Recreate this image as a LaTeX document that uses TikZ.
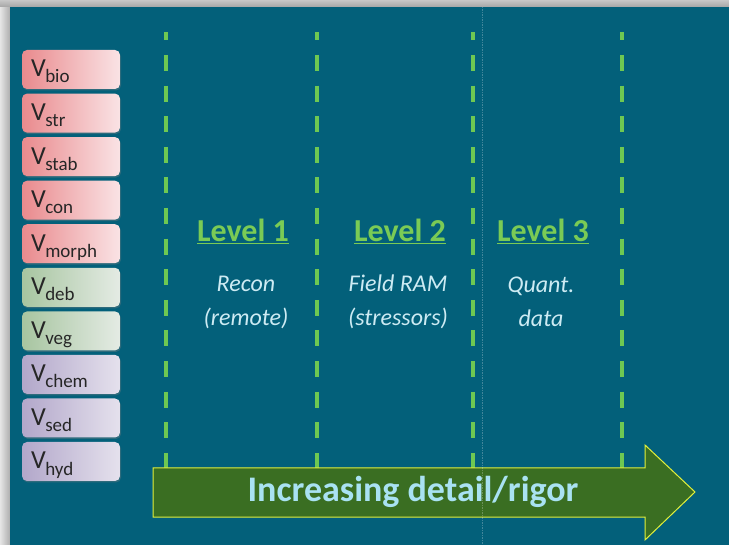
\documentclass[tikz,border=0pt]{standalone}
\usepackage{fontspec}
\setmainfont{Carlito}
\usetikzlibrary{shadows}
\definecolor{bgteal}{HTML}{03607A}
\definecolor{dashgreen}{HTML}{6EC852}
\definecolor{levgreen}{HTML}{7ACB55}
\definecolor{lighttext}{HTML}{CDEBF3}
\definecolor{redL}{HTML}{E98A8D}
\definecolor{redR}{HTML}{FAE3E5}
\definecolor{grnL}{HTML}{A7C5A0}
\definecolor{grnR}{HTML}{E4EBE4}
\definecolor{purL}{HTML}{B2A7CA}
\definecolor{purR}{HTML}{E5E1ED}
\definecolor{boxtext}{HTML}{262626}
\definecolor{arrowgreen}{HTML}{3A6E22}
\definecolor{arrowedge}{HTML}{E2F03C}
\definecolor{arrowtext}{HTML}{A9E2F2}
\newcommand{\vsub}[1]{V\kern-0.5pt\raisebox{-6pt}{\fontsize{19}{19}\selectfont #1}}
\tikzset{
  vbox/.style={draw=none, rounded corners=5pt, minimum width=98pt, minimum height=39pt,
    text width=80pt, align=left, inner sep=0pt, text=boxtext,
    text height=19.5pt, text depth=4.5pt,
    font=\fontsize{26}{26}\selectfont,
    drop shadow={opacity=0.35, shadow xshift=1pt, shadow yshift=-1.5pt}},
  redbox/.style={vbox, left color=redL, right color=redR},
  grnbox/.style={vbox, left color=grnL, right color=grnR},
  purbox/.style={vbox, left color=purL, right color=purR},
  divider/.style={draw=dashgreen, line width=4.5pt, dash pattern=on 16pt off 14.6pt, dash phase=7.6pt},
  levlabel/.style={text=levgreen, font=\bfseries\fontsize{32}{32}\selectfont},
  desc/.style={text=lighttext, align=center, font=\itshape\fontsize{24}{34}\selectfont},
}
\begin{document}
\begin{tikzpicture}[x=1pt,y=-1pt]
\useasboundingbox (0,0) rectangle (729,545);
% outer grey frame / shadow
\fill[black!18] (0,0) rectangle (729,545);
\fill[left color=black!10, right color=black!32] (0,0) rectangle (10,545);
\fill[top color=black!22, bottom color=black!35] (0,0) rectangle (729,7);
\fill[bgteal] (10,7) rectangle (729,545);
% boxes
\node[redbox] (bio)   at (71,69.5)  {\vsub{bio}};
\node[redbox] (str)   at (71,113.1) {\vsub{str}};
\node[redbox] (stab)  at (71,156.6) {\vsub{stab}};
\node[redbox] (con)   at (71,200.2) {\vsub{con}};
\node[redbox] (morph) at (71,243.7) {\vsub{morph}};
\node[grnbox] (deb)   at (71,287.3) {\vsub{deb}};
\node[grnbox] (veg)   at (71,330.9) {\vsub{veg}};
\node[purbox] (chem)  at (71,374.4) {\vsub{chem}};
\node[purbox] (sed)   at (71,418.0) {\vsub{sed}};
\node[purbox] (hyd)   at (71,461.5) {\vsub{hyd}};
% dividers
\foreach \x/\n in {166/d1, 317/d2, 473/d3, 622/d4} {
  \coordinate (\n top) at (\x,32);
  \coordinate (\n bot) at (\x,468);
  \draw[divider] (\n top) -- (\n bot);
}
% level labels
\node[levlabel] (lev1) at (243,231) {\underline{Level 1}};
\node[levlabel] (lev2) at (400,231) {\underline{Level 2}};
\node[levlabel] (lev3) at (543,231) {\underline{Level 3}};
\node[desc] (desc1) at (246,302) {Recon\\(remote)};
\node[desc] (desc2) at (398,302) {Field RAM\\(stressors)};
\node[desc] (desc3) at (541,302) {Quant.\\data};
% arrow
\fill[arrowgreen, draw=arrowedge, line width=1pt, line join=miter]
  (153,468) -- (645,468) -- (645,445) -- (695,492) -- (645,540) -- (645,517) -- (153,517) -- cycle;
\node[text=arrowtext, font=\bfseries\fontsize{36}{36}\selectfont] (arrowlabel) at (413,492) {Increasing detail/rigor};
% faint seam
\coordinate (seamtop) at (482,7);
\coordinate (seambot) at (482,545);
\draw[white, opacity=0.25, line width=0.6pt, dash pattern=on 1.5pt off 1pt] (seamtop) -- (seambot);
\end{tikzpicture}
\end{document}
